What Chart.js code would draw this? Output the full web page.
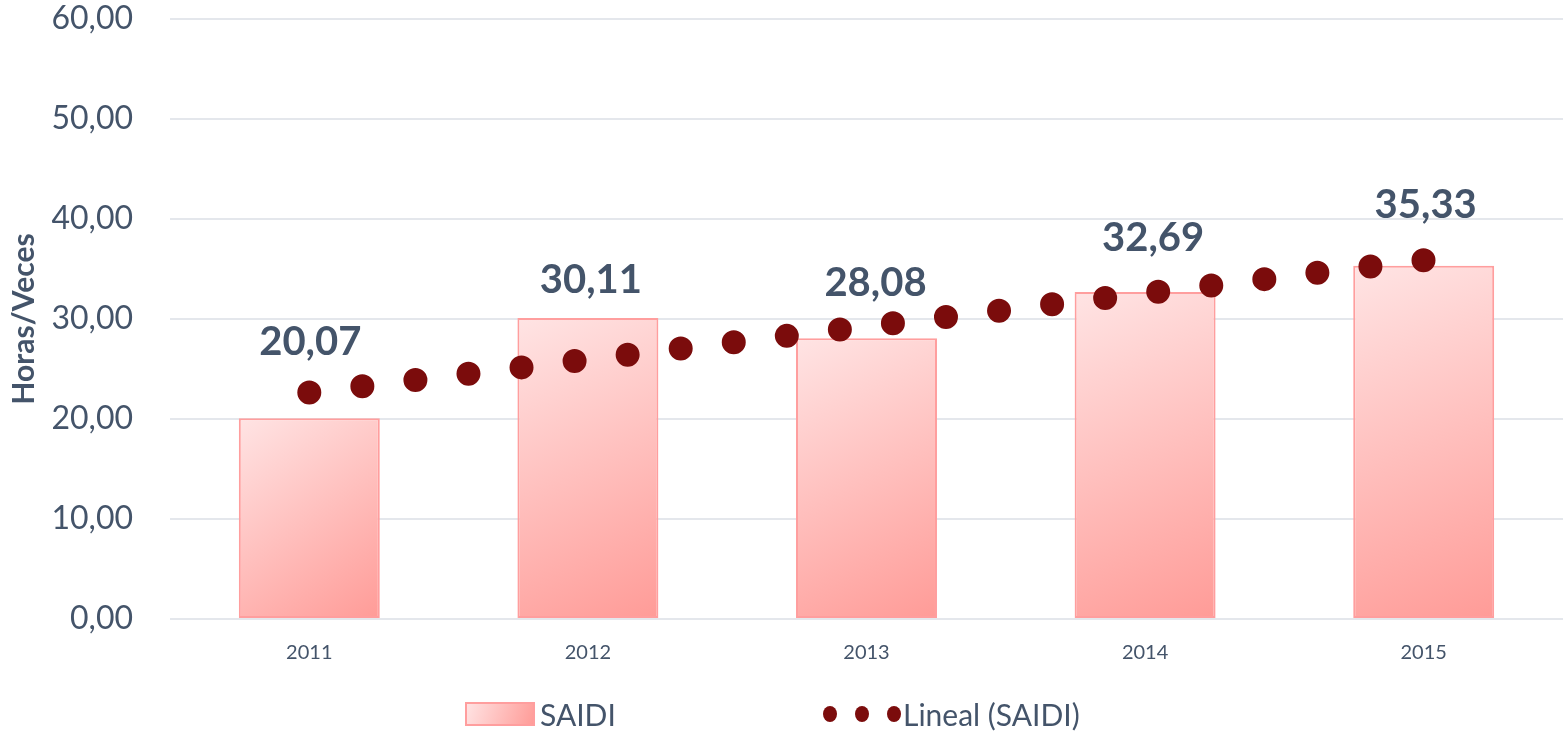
<!DOCTYPE html>
<html>
<head>
<meta charset="utf-8">
<script src="https://cdn.jsdelivr.net/npm/chart.js@4/dist/chart.umd.min.js"></script>
<style>
  html, body { margin: 0; padding: 0; background: #fff; }
  #wrap { width: 1563px; height: 736px; }
</style>
</head>
<body>
<div id="wrap"><canvas id="saidiChart"></canvas></div>
<script>
const years = ['2011', '2012', '2013', '2014', '2015'];
const saidi = [20.07, 30.11, 28.08, 32.69, 35.33];
const trend = [22.64, 25.95, 29.26, 32.57, 35.88];

// label placement (px above bar top / horizontal nudge), as in the original
const labelLift = [76, 38, 55, 54, 61];
const labelNudge = [1, 3, 9, 8, 2];

const textColor = '#44546a';
const dotColor = '#7b0c0c';
const font = 'Lato';
const barPct = 0.506;
const trendDots = 22;

const fmt = v => v.toFixed(2).replace('.', ',');

function barGradient(ctx, x0, y0, x1, y1) {
  const g = ctx.createLinearGradient(x0, y0, x1, y1);
  g.addColorStop(0, '#ffe4e4');
  g.addColorStop(1, '#ff9b97');
  return g;
}

// spread the trend dots evenly from first to last category
const dotSpacing = {
  id: 'dotSpacing',
  beforeDatasetsDraw(chart) {
    const meta = chart.getDatasetMeta(1);
    const pts = meta.data;
    if (!pts.length) return;
    const a = pts[0], b = pts[pts.length - 1];
    const len = Math.hypot(b.x - a.x, b.y - a.y);
    meta.dataset.options.borderDash = [0, len / (trendDots - 1) - 0.01];
  }
};

const valueLabels = {
  id: 'valueLabels',
  afterDatasetsDraw(chart) {
    const ctx = chart.ctx;
    const meta = chart.getDatasetMeta(0);
    ctx.save();
    ctx.font = 'bold 40px ' + font;
    ctx.fillStyle = textColor;
    ctx.textAlign = 'center';
    ctx.textBaseline = 'middle';
    meta.data.forEach((bar, i) => {
      ctx.fillText(fmt(saidi[i]), bar.x + labelNudge[i], bar.y - labelLift[i]);
    });
    ctx.restore();
  }
};

const bottomLegend = {
  id: 'bottomLegend',
  afterDraw(chart) {
    const ctx = chart.ctx;
    const cy = 714;
    ctx.save();
    ctx.fillStyle = barGradient(ctx, 466, 703, 534, 725);
    ctx.fillRect(466, 703, 68, 22);
    ctx.strokeStyle = '#ff9e9e';
    ctx.lineWidth = 2;
    ctx.strokeRect(466, 703, 68, 22);
    ctx.font = '30px ' + font;
    ctx.fillStyle = textColor;
    ctx.textBaseline = 'middle';
    ctx.fillText('SAIDI', 540, cy + 2);
    ctx.fillStyle = dotColor;
    [830, 862, 894].forEach(x => {
      ctx.beginPath();
      ctx.ellipse(x, cy, 7, 8, 0, 0, Math.PI * 2);
      ctx.fill();
    });
    ctx.fillStyle = textColor;
    ctx.fillText('Lineal (SAIDI)', 903, cy + 2);
    ctx.restore();
  }
};

new Chart(document.getElementById('saidiChart'), {
  type: 'bar',
  data: {
    labels: years,
    datasets: [{
      type: 'bar',
      label: 'SAIDI',
      data: saidi,
      order: 2,
      barPercentage: barPct,
      categoryPercentage: 1,
      borderColor: '#ff9e9e',
      borderWidth: 2,
      borderSkipped: false,
      backgroundColor(c) {
        const chart = c.chart;
        const sx = chart.scales.x, sy = chart.scales.y;
        if (c.type !== 'data' || !sx || !sy || !chart.chartArea) return '#ffc4c4';
        const x = sx.getPixelForValue(c.dataIndex);
        const w = sx.width / years.length * barPct;
        const top = sy.getPixelForValue(saidi[c.dataIndex]);
        const bot = sy.getPixelForValue(0);
        return barGradient(chart.ctx, x - w / 2, top, x + w / 2, bot);
      }
    }, {
      type: 'line',
      label: 'Lineal (SAIDI)',
      data: trend,
      order: 1,
      borderColor: dotColor,
      borderWidth: 24,
      borderDash: [0, 53.4],
      borderCapStyle: 'round',
      pointRadius: 0,
      fill: false,
      tension: 0
    }]
  },
  options: {
    responsive: true,
    maintainAspectRatio: false,
    animation: false,
    layout: { padding: { top: 19, left: 0, right: 0, bottom: 0 } },
    plugins: {
      legend: { display: false },
      tooltip: { enabled: false }
    },
    scales: {
      x: {
        grid: { display: false, drawTicks: false },
        border: { display: false },
        ticks: { color: textColor, font: { family: font, size: 20 }, padding: 22 },
        afterFit(scale) { scale.height = 117; }
      },
      y: {
        min: 0,
        max: 60,
        border: { display: false },
        grid: { color: '#e4e7ec', lineWidth: 2, drawTicks: false },
        ticks: {
          stepSize: 10,
          color: textColor,
          font: { family: font, size: 32 },
          padding: 37,
          callback: v => fmt(v)
        },
        title: {
          display: true,
          text: 'Horas/Veces',
          color: textColor,
          font: { family: font, size: 30, weight: 'bold' },
          padding: { top: 6, bottom: 0 }
        },
        afterFit(scale) {
          scale.width = 170;
          scale.paddingTop = 0;
          scale.paddingBottom = 0;
        }
      }
    }
  },
  plugins: [dotSpacing, valueLabels, bottomLegend]
});
</script>
</body>
</html>
